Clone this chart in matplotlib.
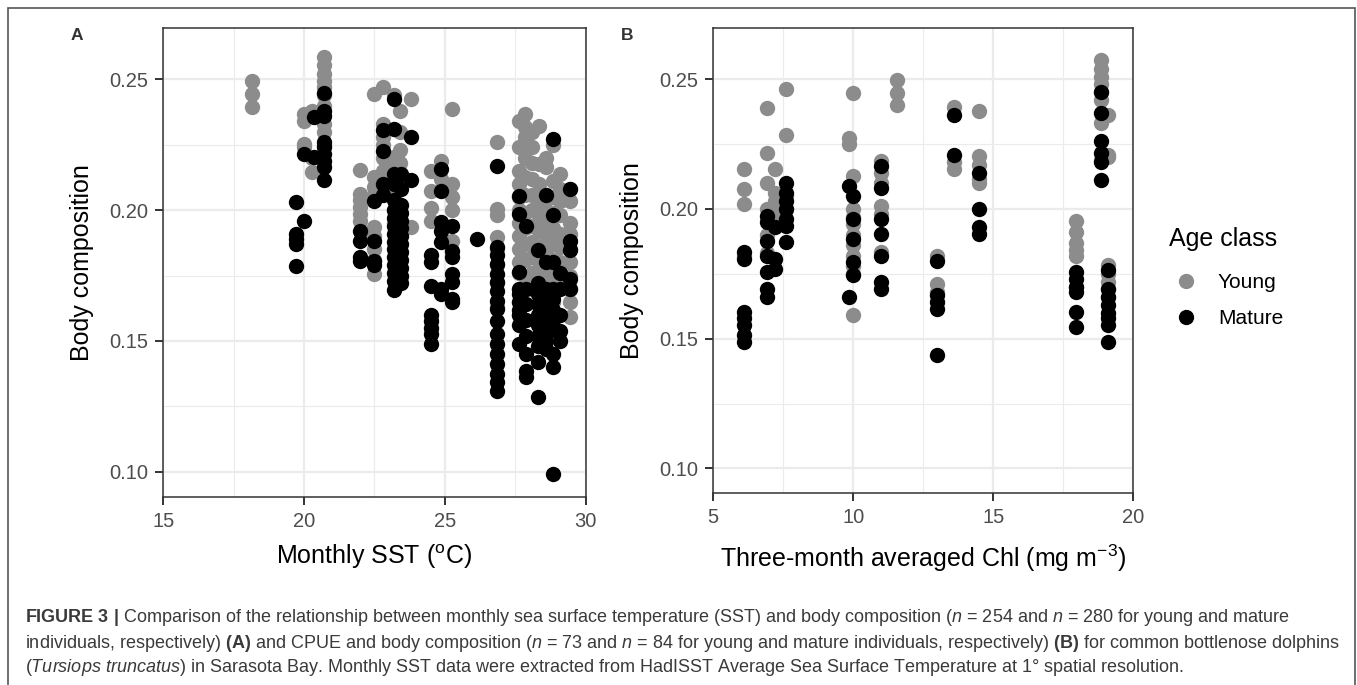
import matplotlib.pyplot as plt
import matplotlib.patches as patches
from matplotlib.lines import Line2D

plt.rcParams['font.family'] = ['Liberation Sans', 'DejaVu Sans']
plt.rcParams['mathtext.fontset'] = 'custom'
plt.rcParams['mathtext.rm'] = 'Liberation Sans'
plt.rcParams['mathtext.it'] = 'Liberation Sans:italic'
plt.rcParams['mathtext.bf'] = 'Liberation Sans:bold'
plt.rcParams['mathtext.default'] = 'regular'

# panel A: monthly SST columns and body composition values
sst_young_x = [18.15, 20.0, 20.3, 20.7, 22.0, 22.5, 22.8, 23.2, 23.4, 23.8, 24.5, 24.85, 25.25,
               26.85, 27.65, 27.85, 28.1, 28.35, 28.6, 28.85, 29.1, 29.45]
sst_young_y = [
    [0.2496, 0.2445, 0.2394],
    [0.2369, 0.2340, 0.2254, 0.2240],
    [0.2380, 0.2200, 0.2146],
    [0.2586, 0.2554, 0.2522, 0.2496, 0.2470, 0.2440, 0.2400, 0.2330, 0.2300, 0.2250],
    [0.2152, 0.2062, 0.2040, 0.2011, 0.1986, 0.1960],
    [0.2445, 0.2126, 0.2090, 0.2060, 0.1935, 0.1900, 0.1850, 0.1810, 0.1756],
    [0.2471, 0.2330, 0.2279, 0.2250, 0.2200, 0.2150],
    [0.2440, 0.2203, 0.2165, 0.2100, 0.2062, 0.2000, 0.1950],
    [0.2381, 0.2300, 0.2230, 0.2180, 0.2120, 0.1980],
    [0.2426, 0.1935],
    [0.2150, 0.2075, 0.2010, 0.1960],
    [0.2190, 0.2120],
    [0.2388, 0.2100, 0.2050, 0.2000, 0.1884],
    [0.2260, 0.2005, 0.1980, 0.1897, 0.1850, 0.1790, 0.1720, 0.1630],
    [0.2340, 0.2240, 0.2150, 0.2100, 0.2050, 0.2000, 0.1950, 0.1900, 0.1850, 0.1800, 0.1760,
     0.1700, 0.1650, 0.1600],
    [0.2369, 0.2320, 0.2280, 0.2200, 0.2126, 0.2060, 0.1990, 0.1930, 0.1870, 0.1810, 0.1750],
    [0.2300, 0.2240, 0.2180, 0.2120, 0.2060, 0.2000, 0.1940, 0.1880, 0.1820, 0.1760, 0.1700],
    [0.2324, 0.2177, 0.2100, 0.2040, 0.1980, 0.1920, 0.1860, 0.1800, 0.1740],
    [0.2200, 0.2165, 0.2060, 0.2000, 0.1950, 0.1900, 0.1840, 0.1780, 0.1705, 0.1640],
    [0.2250, 0.2113, 0.2050, 0.1990, 0.1930, 0.1870, 0.1810, 0.1750, 0.1700, 0.1650],
    [0.2140, 0.2080, 0.2037, 0.1980, 0.1910, 0.1860, 0.1800, 0.1740],
    [0.2080, 0.2037, 0.1950, 0.1910, 0.1850, 0.1800, 0.1750, 0.1700, 0.1650, 0.1590],
]
sst_mature_x = [19.7, 20.0, 20.35, 20.7, 22.0, 22.5, 22.8, 23.2, 23.45, 23.8, 24.5, 24.85, 25.25,
                26.15, 26.85, 27.65, 27.9, 28.3, 28.6, 28.85, 29.1, 29.45]
sst_mature_y = [
    [0.2031, 0.1909, 0.1890, 0.1871, 0.1788],
    [0.2216, 0.1960],
    [0.2356, 0.2203],
    [0.2450, 0.2380, 0.2360, 0.2260, 0.2240, 0.2216, 0.2190, 0.2165, 0.2114],
    [0.1922, 0.1884, 0.1820, 0.1807],
    [0.2037, 0.1884, 0.1807, 0.1790],
    [0.2305, 0.2228, 0.2101, 0.2060],
    [0.2426, 0.2311, 0.2139, 0.2101, 0.2040, 0.2000, 0.1970, 0.1940, 0.1910, 0.1880, 0.1850,
     0.1820, 0.1790, 0.1760, 0.1730, 0.1693],
    [0.2139, 0.2080, 0.2020, 0.1990, 0.1960, 0.1930, 0.1900, 0.1870, 0.1840, 0.1810, 0.1780,
     0.1750, 0.1720],
    [0.2279, 0.2114],
    [0.1830, 0.1800, 0.1710, 0.1600, 0.1578, 0.1550, 0.1527, 0.1490],
    [0.2158, 0.2075, 0.1955, 0.1922, 0.1880, 0.1700, 0.1680],
    [0.1940, 0.1845, 0.1820, 0.1756, 0.1725, 0.1660, 0.1650],
    [0.1890],
    [0.2170, 0.1858, 0.1827, 0.1795, 0.1756, 0.1724, 0.1692, 0.1654, 0.1622, 0.1578, 0.1527,
     0.1489, 0.1450, 0.1412, 0.1374, 0.1342, 0.1310],
    [0.2056, 0.1986, 0.1763, 0.1700, 0.1680, 0.1650, 0.1620, 0.1600, 0.1560, 0.1489],
    [0.1940, 0.1700, 0.1640, 0.1580, 0.1520, 0.1450, 0.1386, 0.1360],
    [0.1846, 0.1720, 0.1680, 0.1640, 0.1600, 0.1560, 0.1520, 0.1480, 0.1420, 0.1284],
    [0.2060, 0.1800, 0.1700, 0.1650, 0.1600, 0.1550, 0.1500, 0.1470],
    [0.2273, 0.1980, 0.1801, 0.1700, 0.1660, 0.1620, 0.1580, 0.1540, 0.1450, 0.1400, 0.0990],
    [0.1760, 0.1700, 0.1600, 0.1539, 0.1500],
    [0.2081, 0.1884, 0.1846, 0.1737, 0.1700],
]

# panel B: three-month averaged Chl columns and body composition values
chl_young_x = [6.1, 6.9, 7.2, 7.6, 9.85, 10.0, 11.0, 11.55, 13.0, 13.6, 14.5, 17.95, 18.85, 19.1]
chl_young_y = [
    [0.2152, 0.2075, 0.2018, 0.1820],
    [0.2388, 0.2216, 0.2101, 0.2000, 0.1900, 0.1830],
    [0.2152, 0.2063, 0.2030, 0.1990, 0.1960],
    [0.2461, 0.2286, 0.2050, 0.2000],
    [0.2273, 0.2250],
    [0.2445, 0.2126, 0.2000, 0.1970, 0.1940, 0.1900, 0.1860, 0.1820, 0.1780, 0.1750, 0.1591],
    [0.2184, 0.2140, 0.2100, 0.2012, 0.1980, 0.1833],
    [0.2496, 0.2445, 0.2401],
    [0.1820, 0.1712, 0.1680],
    [0.2394, 0.2180, 0.2152],
    [0.2379, 0.2203, 0.2170, 0.2114, 0.2100],
    [0.1954, 0.1910, 0.1870, 0.1840, 0.1820, 0.1700],
    [0.2573, 0.2540, 0.2510, 0.2480, 0.2450, 0.2420, 0.2330, 0.2190],
    [0.2362, 0.2209, 0.2200, 0.1782, 0.1750, 0.1720, 0.1690, 0.1660],
]
chl_mature_x = [6.1, 6.9, 7.2, 7.6, 9.85, 10.0, 11.0, 13.0, 13.6, 14.5, 17.95, 18.85, 19.1]
chl_mature_y = [
    [0.1833, 0.1807, 0.1603, 0.1578, 0.1552, 0.1514, 0.1488],
    [0.1973, 0.1950, 0.1877, 0.1820, 0.1756, 0.1693, 0.1661],
    [0.1930, 0.1807, 0.1769],
    [0.2101, 0.2060, 0.2030, 0.2000, 0.1960, 0.1935, 0.1871],
    [0.2088, 0.1661],
    [0.2050, 0.1960, 0.1884, 0.1795, 0.1744],
    [0.2165, 0.2082, 0.1960, 0.1903, 0.1820, 0.1718, 0.1693],
    [0.1801, 0.1667, 0.1640, 0.1616, 0.1437],
    [0.2362, 0.2209],
    [0.2139, 0.1999, 0.1929, 0.1903],
    [0.1756, 0.1730, 0.1700, 0.1680, 0.1603, 0.1546],
    [0.2451, 0.2368, 0.2260, 0.2216, 0.2180, 0.2113],
    [0.1763, 0.1693, 0.1660, 0.1630, 0.1600, 0.1580, 0.1553, 0.1488],
]

y_ticks = [0.10, 0.15, 0.20, 0.25]
y_minor = [0.125, 0.175, 0.225]
age_classes = ['Young', 'Mature']
age_colors = ['#8C8C8C', '#000000']

caption_lines = [
    r"$\mathbf{FIGURE\ 3\ |}$ Comparison of the relationship between monthly sea surface temperature (SST) "
    r"and body composition ($\mathit{n}$ = 254 and $\mathit{n}$ = 280 for young and mature",
    r"individuals, respectively) $\mathbf{(A)}$ and CPUE and body composition ($\mathit{n}$ = 73 and "
    r"$\mathit{n}$ = 84 for young and mature individuals, respectively) $\mathbf{(B)}$ for common bottlenose dolphins",
    r"($\mathit{Tursiops\ truncatus}$) in Sarasota Bay. Monthly SST data were extracted from HadISST "
    r"Average Sea Surface Temperature at 1° spatial resolution.",
]


def expand(cols, vals):
    xs, ys = [], []
    for c, v in zip(cols, vals):
        xs += [c] * len(v)
        ys += v
    return xs, ys


def style_axes(ax, xlim, xmaj, xmin):
    ax.set_xlim(xlim)
    ax.set_ylim(0.0904, 0.2697)
    ax.set_xticks(xmaj)
    ax.set_xticks(xmin, minor=True)
    ax.set_yticks(y_ticks)
    ax.set_yticks(y_minor, minor=True)
    ax.set_yticklabels(['%.2f' % v for v in y_ticks])
    ax.grid(which='major', color='#EBEBEB', lw=1.6)
    ax.grid(which='minor', color='#EBEBEB', lw=0.8)
    ax.set_axisbelow(True)
    for s in ax.spines.values():
        s.set_color('#333333')
        s.set_linewidth(1.1)
    ax.tick_params(which='major', length=5.8, width=1.4, color='#333333',
                   labelsize=14.5, labelcolor='#4D4D4D', pad=5)
    ax.tick_params(which='minor', length=0)


fig = plt.figure(figsize=(13.57, 6.85), dpi=100)
W, H = 1357.0, 685.0

axA = fig.add_axes([163.3 / W, 1 - 496.7 / H, 422.2 / W, 468.7 / H])
axB = fig.add_axes([713.3 / W, 1 - 493.3 / H, 420.0 / W, 465.3 / H])

panels = [
    (axA, sst_young_x, sst_young_y, sst_mature_x, sst_mature_y, (15, 30), [15, 20, 25, 30],
     [17.5, 22.5, 27.5], r'Monthly SST ($^{o}$C)', 'A'),
    (axB, chl_young_x, chl_young_y, chl_mature_x, chl_mature_y, (5, 20), [5, 10, 15, 20],
     [7.5, 12.5, 17.5], r'Three-month averaged Chl (mg m$^{-3}$)', 'B'),
]

for ax, yx, yy, mx, my, xlim, xmaj, xmin, xlabel, tag in panels:
    style_axes(ax, xlim, xmaj, xmin)
    x, y = expand(yx, yy)
    ax.scatter(x, y, s=122, color=age_colors[0], linewidths=0, zorder=3)
    x, y = expand(mx, my)
    ax.scatter(x, y, s=122, color=age_colors[1], linewidths=0, zorder=3)
    ax.set_xlabel(xlabel, fontsize=18, color='black', va='center')
    ax.set_ylabel('Body composition', fontsize=18, color='black', va='center')

axA.xaxis.set_label_coords(0.5, (496.7 - 557) / 468.7)
axB.xaxis.set_label_coords(0.5, (493.3 - 558) / 465.3)
axA.yaxis.set_label_coords((82 - 163.3) / 422.2, 0.5)
axB.yaxis.set_label_coords((632 - 713.3) / 420.0, 0.5)

fig.text(76.5 / W, 1 - 36 / H, 'A', fontsize=12.5, fontweight='bold', color='#333333',
         ha='center', va='center')
fig.text(627 / W, 1 - 36 / H, 'B', fontsize=12.5, fontweight='bold', color='#333333',
         ha='center', va='center')

handles = [Line2D([], [], ls='none', marker='o', markersize=11, markerfacecolor=c,
                  markeredgewidth=0) for c in age_colors]
leg = axB.legend(handles, age_classes, title='Age class', loc='upper left',
                 bbox_to_anchor=(1169 / W, 1 - 227 / H), bbox_transform=fig.transFigure,
                 frameon=False, fontsize=15, title_fontsize=18, alignment='left',
                 handlelength=1.6, handletextpad=0.75, labelspacing=0.8, borderpad=0,
                 borderaxespad=0)
# wider gap between legend title and keys, as in the ggplot guide
leg._legend_box.sep = 16.2

# outer figure frame
fig.add_artist(patches.Rectangle((7.5 / W, -0.02), (1355 - 7.5) / W, 1.02 - 8 / H,
                                 transform=fig.transFigure, fill=False, edgecolor='#555555',
                                 linewidth=1.2))

for i, line in enumerate(caption_lines):
    fig.text(25 / W, 1 - (618 + 25 * i) / H, line, fontsize=13, color='#3a3a3a',
             ha='left', va='center')

fig.savefig('out.png', dpi=100)
